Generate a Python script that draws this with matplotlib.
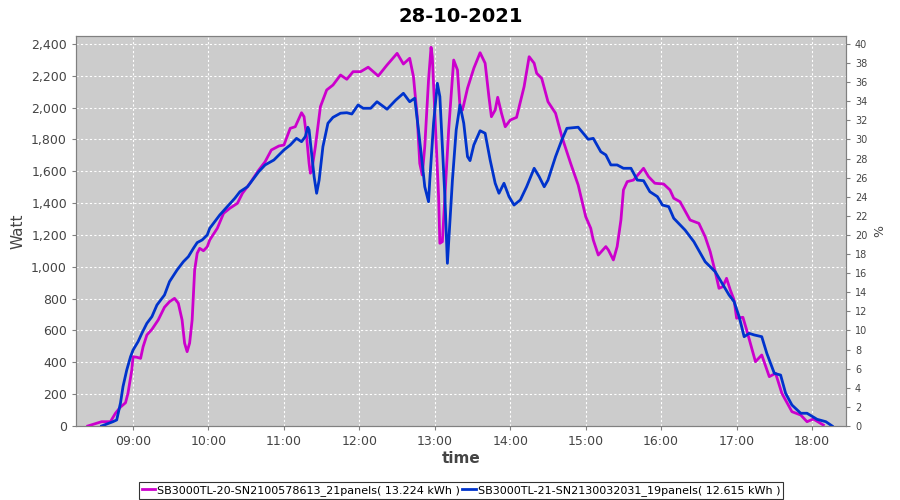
import datetime as dt
import matplotlib
matplotlib.use("Agg")
import matplotlib.pyplot as plt
import matplotlib.dates as mdates
from matplotlib.ticker import FuncFormatter, MultipleLocator

day = "2021-10-28"
title = "28-10-2021"

label_1 = "SB3000TL-20-SN2100578613_21panels( 13.224 kWh )"
times_1 = ["08:24", "08:35", "08:42", "08:46", "08:50", "08:54", "08:56", "08:59", "09:00", "09:03",
           "09:06", "09:08", "09:11", "09:15", "09:20", "09:25", "09:29", "09:33", "09:36", "09:39",
           "09:41", "09:43", "09:45", "09:47", "09:49", "09:51", "09:53", "09:56", "09:59", "10:01",
           "10:07", "10:12", "10:17", "10:23", "10:27", "10:33", "10:40", "10:45", "10:50", "10:56",
           "11:00", "11:05", "11:09", "11:14", "11:16", "11:18", "11:20", "11:21", "11:22", "11:25",
           "11:29", "11:34", "11:39", "11:45", "11:50", "11:55", "12:01", "12:07", "12:15", "12:22",
           "12:30", "12:35", "12:40", "12:43", "12:46", "12:48", "12:50", "12:52", "12:55", "12:57",
           "12:58", "13:00", "13:03", "13:04", "13:06", "13:11", "13:15", "13:18", "13:20", "13:22",
           "13:26", "13:31", "13:36", "13:40", "13:43", "13:45", "13:48", "13:50", "13:53", "13:56",
           "14:00", "14:05", "14:11", "14:15", "14:19", "14:21", "14:25", "14:30", "14:36", "14:41",
           "14:48", "14:54", "15:00", "15:04", "15:06", "15:10", "15:16", "15:18", "15:22", "15:25",
           "15:28", "15:30", "15:33", "15:38", "15:46", "15:50", "15:55", "16:02", "16:07", "16:10",
           "16:15", "16:23", "16:30", "16:35", "16:39", "16:43", "16:46", "16:49", "16:52", "16:55",
           "16:58", "17:00", "17:05", "17:08", "17:15", "17:20", "17:26", "17:31", "17:36", "17:44",
           "17:51", "17:56", "18:01", "18:09"]
watt_1 = [0, 27, 27, 80, 119, 146, 207, 352, 435, 432,
          425, 498, 572, 607, 666, 746, 781, 802, 771, 666,
          520, 467, 521, 666, 980, 1085, 1116, 1101, 1126, 1169,
          1242, 1336, 1368, 1399, 1462, 1525, 1608, 1660, 1734, 1759,
          1765, 1870, 1880, 1968, 1943, 1818, 1650, 1588, 1598, 1755,
          2006, 2111, 2142, 2205, 2178, 2226, 2226, 2254, 2199, 2268,
          2341, 2274, 2310, 2195, 1943, 1650, 1577, 1755, 2174, 2379,
          2320, 1965, 1441, 1148, 1158, 1860, 2299, 2237, 2006, 1985,
          2122, 2247, 2345, 2279, 2069, 1943, 1985, 2065, 1965, 1880,
          1922, 1939, 2132, 2320, 2279, 2216, 2184, 2037, 1965, 1818,
          1650, 1514, 1315, 1242, 1169, 1074, 1127, 1106, 1043, 1127,
          1294, 1483, 1535, 1545, 1619, 1566, 1525, 1520, 1483, 1431,
          1409, 1294, 1273, 1189, 1095, 969, 865, 875, 928, 854,
          792, 677, 683, 603, 404, 446, 310, 331, 205, 90,
          69, 27, 44, 6]

label_2 = "SB3000TL-21-SN2130032031_19panels( 12.615 kWh )"
times_2 = ["08:35", "08:44", "08:47", "08:50", "08:52", "08:55", "08:58", "09:00", "09:04", "09:07",
           "09:11", "09:15", "09:19", "09:21", "09:25", "09:29", "09:35", "09:40", "09:44", "09:48",
           "09:51", "09:55", "09:59", "10:01", "10:09", "10:15", "10:21", "10:25", "10:31", "10:34",
           "10:40", "10:45", "10:52", "11:00", "11:05", "11:10", "11:14", "11:17", "11:19", "11:20",
           "11:22", "11:24", "11:26", "11:28", "11:31", "11:35", "11:39", "11:45", "11:50", "11:54",
           "11:59", "12:03", "12:09", "12:14", "12:22", "12:29", "12:35", "12:40", "12:44", "12:47",
           "12:50", "12:52", "12:55", "12:56", "12:59", "13:02", "13:04", "13:06", "13:08", "13:10",
           "13:14", "13:17", "13:20", "13:23", "13:26", "13:28", "13:31", "13:36", "13:40", "13:44",
           "13:48", "13:51", "13:55", "13:59", "14:03", "14:08", "14:13", "14:19", "14:23", "14:27",
           "14:30", "14:36", "14:41", "14:45", "14:54", "14:58", "15:02", "15:06", "15:12", "15:16",
           "15:20", "15:25", "15:30", "15:36", "15:41", "15:46", "15:51", "15:57", "16:01", "16:06",
           "16:10", "16:19", "16:26", "16:35", "16:43", "16:54", "16:58", "17:02", "17:06", "17:10",
           "17:14", "17:20", "17:24", "17:30", "17:35", "17:39", "17:44", "17:51", "17:56", "18:04",
           "18:11", "18:16"]
watt_2 = [0, 27, 38, 144, 247, 352, 435, 477, 530, 582,
          645, 687, 760, 781, 823, 907, 980, 1032, 1064, 1116,
          1152, 1169, 1200, 1242, 1326, 1378, 1431, 1472, 1503, 1535,
          1598, 1640, 1671, 1734, 1765, 1807, 1786, 1818, 1877, 1860,
          1713, 1566, 1462, 1545, 1755, 1902, 1939, 1965, 1968, 1960,
          2017, 1996, 1996, 2037, 1990, 2048, 2090, 2037, 2059, 1860,
          1650, 1503, 1409, 1545, 1902, 2153, 2069, 1755, 1441, 1022,
          1545, 1860, 2017, 1902, 1692, 1667, 1765, 1855, 1839, 1671,
          1525, 1462, 1525, 1441, 1388, 1420, 1503, 1619, 1566, 1503,
          1545, 1692, 1797, 1870, 1877, 1839, 1801, 1807, 1723, 1703,
          1640, 1640, 1619, 1619, 1545, 1541, 1472, 1441, 1388, 1378,
          1305, 1231, 1158, 1032, 969, 823, 781, 687, 561, 582,
          572, 561, 457, 331, 320, 205, 132, 80, 80, 42,
          27, 0]

x_start = "08:14:36"
x_end = "18:27:00"
max_watt = 2450
pct_per_watt = 40 / 2400


def to_dt(t):
    fmt = "%Y-%m-%d %H:%M" if t.count(":") == 1 else "%Y-%m-%d %H:%M:%S"
    return dt.datetime.strptime(day + " " + t, fmt)


x1 = [to_dt(t) for t in times_1]
x2 = [to_dt(t) for t in times_2]

fig = plt.figure(figsize=(9, 5), dpi=100)
ax = fig.add_axes([0.0844, 0.148, 0.8556, 0.78])
ax.set_facecolor("#cccccc")

ax.plot(x1, watt_1, color="#cc00cc", lw=2, label=label_1, zorder=3)
ax.plot(x2, watt_2, color="#0033cc", lw=2, label=label_2, zorder=3)

ax.set_xlim(to_dt(x_start), to_dt(x_end))
ax.set_ylim(0, max_watt)
ax.yaxis.set_major_locator(MultipleLocator(200))
ax.yaxis.set_major_formatter(FuncFormatter(lambda v, p: f"{int(v):,}"))
ax.xaxis.set_major_locator(mdates.HourLocator())
ax.xaxis.set_major_formatter(mdates.DateFormatter("%H:%M"))

ax.grid(True, color="white", linestyle=(0, (2, 2)), linewidth=0.8)
ax.set_axisbelow(True)
for s in ax.spines.values():
    s.set_color("#808080")
ax.tick_params(colors="#808080", labelcolor="#444444", labelsize=9, length=3)

ax.set_xlabel("time", fontsize=11, color="#444444", fontweight="bold", labelpad=2)
ax.set_ylabel("Watt", fontsize=11, color="#444444", labelpad=4)
ax.set_title(title, fontsize=14, fontweight="bold", pad=10)

ax2 = ax.twinx()
ax2.set_ylim(0, max_watt * pct_per_watt)
ax2.yaxis.set_major_locator(MultipleLocator(2))
ax2.tick_params(colors="#808080", labelcolor="#444444", labelsize=7, length=3)
ax2.set_ylabel("%", fontsize=9, color="#444444", labelpad=4)
for s in ax2.spines.values():
    s.set_color("#808080")

leg = ax.legend(loc="upper center", bbox_to_anchor=(0.5, -0.13), ncol=2, fontsize=8,
                frameon=True, fancybox=False, edgecolor="black", handlelength=1.2,
                handletextpad=0.2, columnspacing=0.2, borderpad=0.25)
leg.get_frame().set_linewidth(0.8)

fig.savefig("out.png", dpi=100)
